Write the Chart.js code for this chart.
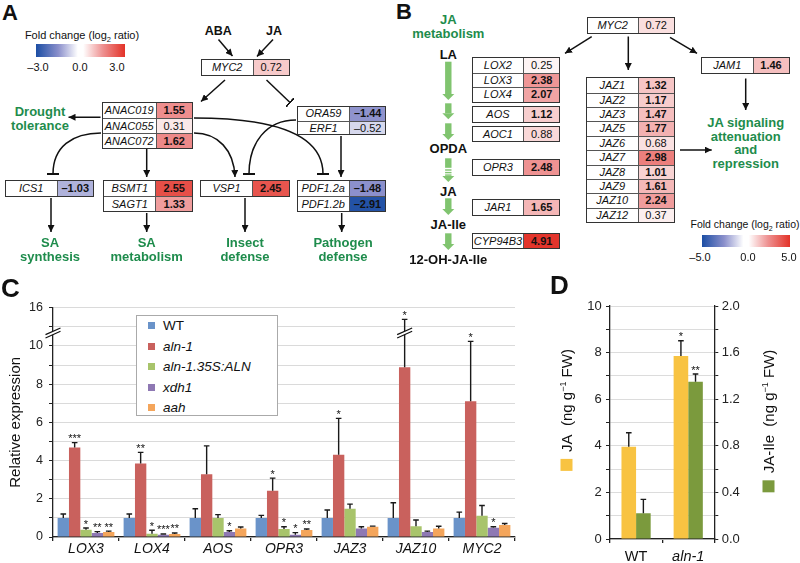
<!DOCTYPE html>
<html>
<head>
<meta charset="utf-8">
<script src="https://cdn.jsdelivr.net/npm/chart.js@4.4.1/dist/chart.umd.min.js"></script>
<style>
html, body { margin: 0; background: #fff; }
body { width: 800px; height: 563px; overflow: hidden; position: relative; font-family: 'Liberation Sans', Arial, sans-serif; color: #111; }
.abs { position: absolute; }
.plabel { position: absolute; font-weight: bold; }
.green { position: absolute; color: #1e8c4c; font-weight: bold; font-size: 13px; text-align: center; transform: translateX(-50%); white-space: nowrap; }
.blk { position: absolute; font-weight: bold; font-size: 13px; line-height: 13px; transform: translateX(-50%); white-space: nowrap; }
.small { position: absolute; font-size: 11px; line-height: 11px; white-space: nowrap; transform: translateX(-50%); }
.cbar { position: absolute; height: 13px; background: linear-gradient(to right, rgb(28,78,164), rgb(138,143,203) 25%, #fff 47%, #fff 53%, rgb(238,145,145) 75%, rgb(227,50,40)); }
.gbox { position: absolute; border: 1px solid #333; background: #fff; font-size: 11px; }
.grow { display: flex; box-sizing: border-box; }
.gn { font-style: italic; text-align: center; border-right: 1px solid #555; box-sizing: border-box; }
.gv { text-align: center; }
.wrap { position: absolute; }
#legC { position: absolute; left: 136px; top: 315px; width: 142px; height: 101px; border: 1px solid #aaa; background: #fff; box-sizing: border-box; font-size: 13.5px; }
#legC .li { height: 20.5px; line-height: 20.5px; padding-left: 11px; white-space: nowrap; }
#legC .sw { display: inline-block; width: 7px; height: 7px; margin-right: 8px; vertical-align: 1px; }
.ytitle { position: absolute; font-size: 15px; white-space: nowrap; transform: translate(-50%, -50%) rotate(-90deg); }
.ytitle .sq { display: inline-block; width: 12px; height: 12px; margin-right: 7px; vertical-align: -1px; }
sup { font-size: 9px; }
</style>
</head>
<body>

<svg class="abs" style="left:0;top:0" width="800" height="300" id="arrows">
  <defs>
    <marker id="ah" viewBox="0 0 10 10" refX="10" refY="5" markerWidth="7" markerHeight="7" orient="auto" markerUnits="userSpaceOnUse">
      <path d="M0,0 L10,5 L0,10 z" fill="#111"/>
    </marker>
    <marker id="tb" viewBox="0 0 2 12" refX="1" refY="6" markerWidth="2" markerHeight="12" orient="auto" markerUnits="userSpaceOnUse">
      <rect width="2" height="12" fill="#111"/>
    </marker>
  </defs>
  <g stroke="#111" stroke-width="1.5" fill="none">
    <!-- panel A -->
    <line x1="218.5" y1="39.5" x2="232.5" y2="56" marker-end="url(#ah)"/>
    <line x1="273" y1="39.5" x2="257" y2="56.5" marker-end="url(#ah)"/>
    <line x1="225" y1="80" x2="201" y2="101.5" marker-end="url(#ah)"/>
    <line x1="266.5" y1="80" x2="290" y2="102.5" marker-end="url(#tb)"/>
    <line x1="100.5" y1="117.3" x2="68.5" y2="117.3" marker-end="url(#ah)"/>
    <line x1="146.7" y1="149" x2="146.7" y2="177" marker-end="url(#ah)"/>
    <path d="M101,133 C72,133 53,147 53,174" marker-end="url(#tb)"/>
    <path d="M194,118 C282,118 323,138 323,174" marker-end="url(#tb)"/>
    <path d="M194,133 C218,133 234,150 235,177" marker-end="url(#ah)"/>
    <path d="M296,120 C266,120 249,143 249,174" marker-end="url(#tb)"/>
    <line x1="341" y1="136" x2="341" y2="177" marker-end="url(#ah)"/>
    <line x1="51" y1="198" x2="51" y2="232" marker-end="url(#ah)"/>
    <line x1="146.7" y1="213" x2="146.7" y2="232" marker-end="url(#ah)"/>
    <line x1="245" y1="198" x2="245" y2="232" marker-end="url(#ah)"/>
    <line x1="341.7" y1="213" x2="341.7" y2="232" marker-end="url(#ah)"/>
    <!-- panel B -->
    <line x1="591.7" y1="36.7" x2="565" y2="53.3" marker-end="url(#ah)"/>
    <line x1="628.3" y1="36.5" x2="628.3" y2="70" marker-end="url(#ah)"/>
    <line x1="670" y1="37.3" x2="697" y2="53.3" marker-end="url(#ah)"/>
    <line x1="745.7" y1="78.5" x2="745.7" y2="110" marker-end="url(#ah)"/>
    <line x1="680" y1="150" x2="711.7" y2="150" marker-end="url(#ah)"/>
  </g>
  <g id="greenArrows"></g>
</svg>

<div id="diagram"></div>

<div class="wrap" style="left:0;top:290px;width:530px;height:273px"><canvas id="chartC"></canvas></div>
<div class="wrap" style="left:550px;top:290px;width:250px;height:273px"><canvas id="chartD"></canvas></div>

<div id="legC"></div>

<div class="ytitle" style="left:566px;top:410px"><span class="sq" style="background:#f8c342"></span>JA&nbsp; (ng g<sup>−1</sup> FW)</div>
<div class="ytitle" style="left:768px;top:421px"><span class="sq" style="background:#7b9a3d"></span>JA-Ile&nbsp; (ng g<sup>−1</sup> FW)</div>

<!-- panel letters -->
<div class="plabel" style="left:2px;top:2px;font-size:22px;line-height:22px">A</div>
<div class="plabel" style="left:396px;top:0.5px;font-size:22px;line-height:22px">B</div>
<div class="plabel" style="left:1px;top:274.5px;font-size:26px;line-height:26px">C</div>
<div class="plabel" style="left:550px;top:271.5px;font-size:26px;line-height:26px">D</div>

<!-- colour keys -->
<div class="small" style="left:82px;top:30px">Fold change (log<sub style="font-size:7.5px">2</sub> ratio)</div>
<div class="cbar" style="left:36px;top:44px;width:89px"></div>
<div class="small" style="left:38px;top:62px">–3.0</div>
<div class="small" style="left:80px;top:62px">0.0</div>
<div class="small" style="left:117px;top:62px">3.0</div>

<div class="small" style="left:745px;top:218.5px;font-size:10.5px">Fold change (log<sub style="font-size:7px">2</sub> ratio)</div>
<div class="cbar" style="left:701.7px;top:235px;width:88.3px;height:12px"></div>
<div class="small" style="left:700px;top:252px">–5.0</div>
<div class="small" style="left:748px;top:252px">0.0</div>
<div class="small" style="left:789px;top:252px">5.0</div>

<!-- black / green labels -->
<div class="blk" style="left:218.3px;top:25px;font-size:12.5px">ABA</div>
<div class="blk" style="left:274px;top:25px;font-size:12.5px">JA</div>

<div class="green" style="left:40px;top:104.8px;line-height:14px">Drought<br>tolerance</div>
<div class="green" style="left:50px;top:235.8px;line-height:14px">SA<br>synthesis</div>
<div class="green" style="left:146.7px;top:235.8px;line-height:14px">SA<br>metabolism</div>
<div class="green" style="left:245px;top:235.8px;line-height:14px">Insect<br>defense</div>
<div class="green" style="left:343px;top:235.8px;line-height:14px">Pathogen<br>defense</div>

<div class="green" style="left:448.3px;top:13px;line-height:13.5px">JA<br>metabolism</div>
<div class="green" style="left:745.7px;top:116.3px;line-height:13.5px">JA signaling<br>attenuation<br>and<br>repression</div>

<div class="blk" style="left:448.3px;top:47.6px">LA</div>
<div class="blk" style="left:448.3px;top:142.3px">OPDA</div>
<div class="blk" style="left:448.3px;top:185px">JA</div>
<div class="blk" style="left:448.3px;top:218.3px">JA-Ile</div>
<div class="blk" style="left:448.3px;top:253.3px">12-OH-JA-Ile</div>

<script>
// panel A : log2 fold changes, colour key -3..3
const aMyc = ['MYC2'], aMycVal = [0.72];
const aNac = ['ANAC019', 'ANAC055', 'ANAC072'], aNacVal = [1.55, 0.31, 1.62];
const aOra = ['ORA59', 'ERF1'], aOraVal = [-1.44, -0.52];
const aIcs = ['ICS1'], aIcsVal = [-1.03];
const aSa = ['BSMT1', 'SAGT1'], aSaVal = [2.55, 1.33];
const aVsp = ['VSP1'], aVspVal = [2.45];
const aPdf = ['PDF1.2a', 'PDF1.2b'], aPdfVal = [-1.48, -2.91];

// panel B : colour key -5..5
const bMyc = ['MYC2'], bMycVal = [0.72];
const bLox = ['LOX2', 'LOX3', 'LOX4'], bLoxVal = [0.25, 2.38, 2.07];
const bAos = ['AOS'], bAosVal = [1.12];
const bAoc = ['AOC1'], bAocVal = [0.88];
const bOpr = ['OPR3'], bOprVal = [2.48];
const bJar = ['JAR1'], bJarVal = [1.65];
const bCyp = ['CYP94B3'], bCypVal = [4.91];
const bJam = ['JAM1'], bJamVal = [1.46];
const bJaz = ['JAZ1', 'JAZ2', 'JAZ3', 'JAZ5', 'JAZ6', 'JAZ7', 'JAZ8', 'JAZ9', 'JAZ10', 'JAZ12'];
const bJazVal = [1.32, 1.17, 1.47, 1.77, 0.68, 2.98, 1.01, 1.61, 2.24, 0.37];

// panel C : relative expression (axis above 10 is broken, 12 on the scale = 16)
const genesC = ['LOX3', 'LOX4', 'AOS', 'OPR3', 'JAZ3', 'JAZ10', 'MYC2'];
const seriesC = ['WT', 'aln-1', 'aln-1.35S:ALN', 'xdh1', 'aah'];
const wtC = [1, 1, 1, 1, 1, 1, 1];
const wtErrC = [0.2, 0.2, 0.48, 0.13, 0.41, 0.79, 0.3];
const aln1C = [4.68, 3.84, 3.29, 2.42, 4.3, 8.89, 7.1];
const aln1ErrC = [0.26, 0.59, 1.48, 0.66, 1.91, 2.5, 3.14];
const compC = [0.38, 0.17, 1.0, 0.42, 1.48, 0.56, 1.11];
const compErrC = [0.09, 0.18, 0.17, 0.12, 0.24, 0.33, 0.54];
const xdhC = [0.21, 0.12, 0.26, 0.12, 0.45, 0.26, 0.49];
const xdhErrC = [0.07, 0.04, 0.07, 0.11, 0.09, 0.05, 0.05];
const aahC = [0.26, 0.16, 0.45, 0.37, 0.54, 0.45, 0.63];
const aahErrC = [0.05, 0.05, 0.07, 0.05, 0.03, 0.11, 0.08];
const wtStars = ['', '', '', '', '', '', ''];
const aln1Stars = ['***', '**', '', '*', '*', '*', '*'];
const compStars = ['*', '*', '', '*', '', '', ''];
const xdhStars = ['**', '***', '*', '*', '', '', '*'];
const aahStars = ['**', '**', '', '**', '', '', ''];
const yTicksC = ['0', '', '2', '', '4', '', '6', '', '8', '', '10', '', '16'];

// panel D : JA and JA-Ile content
const groupsD = ['WT', 'aln-1'];
const jaD = [3.96, 7.85], jaErrD = [0.6, 0.66], jaStars = ['', '*'];
const jaIleD = [0.22, 1.35], jaIleErrD = [0.12, 0.066], jaIleStars = ['', '**'];
const yTicksD = ['0', '', '2', '', '4', '', '6', '', '8', '', '10'];
const y2TicksD = ['0.0', '', '0.4', '', '0.8', '', '1.2', '', '1.6', '', '2.0'];

const colorsC = ['#6a93c9', '#c9615d', '#a8c46b', '#8e78b3', '#f4a55b'];

// ---------- diagrams (A, B) ----------
function mix(a, b, t) { return a.map((v, i) => Math.round(v + (b[i] - v) * t)); }
function heat(v, max) {
    let t = Math.min(Math.abs(v) / max, 1);
    let st = v < 0 ? [[255, 255, 255], [138, 143, 203], [28, 78, 164]] : [[255, 255, 255], [238, 145, 145], [227, 50, 40]];
    let c = t < 0.5 ? mix(st[0], st[1], t * 2) : mix(st[1], st[2], (t - 0.5) * 2);
    return 'rgb(' + c.join(',') + ')';
}
function fmt(v) { return v < 0 ? '\u2013' + Math.abs(v).toFixed(2) : v.toFixed(2); }

const diag = document.getElementById('diagram');
function geneBox(x, y, names, vals, max, rowH, nameW, valW) {
    let d = document.createElement('div');
    d.className = 'gbox';
    d.style.left = x + 'px';
    d.style.top = y + 'px';
    names.forEach((n, i) => {
        let r = document.createElement('div');
        r.className = 'grow';
        r.style.height = rowH + 'px';
        r.style.lineHeight = (rowH - (i ? 1 : 0)) + 'px';
        if (i) r.style.borderTop = '1px solid #555';
        let v = vals[i];
        r.innerHTML = '<span class="gn" style="width:' + nameW + 'px">' + n + '</span>' +
            '<span class="gv" style="width:' + valW + 'px;background:' + heat(v, max) +
            ';font-weight:' + (Math.abs(v) >= 1 ? 'bold' : 'normal') + '">' + fmt(v) + '</span>';
        d.appendChild(r);
    });
    diag.appendChild(d);
}

geneBox(200.7, 59.3, aMyc, aMycVal, 3, 14.5, 52, 35);
geneBox(101.7, 101.7, aNac, aNacVal, 3, 15, 54, 35);
geneBox(296.7, 106, aOra, aOraVal, 3, 13.7, 52.5, 35);
geneBox(5, 180, aIcs, aIcsVal, 3, 15, 51.5, 35.5);
geneBox(103.3, 180, aSa, aSaVal, 3, 15, 52, 36);
geneBox(200, 180, aVsp, aVspVal, 3, 15, 52, 35.5);
geneBox(296.7, 180, aPdf, aPdfVal, 3, 15, 52, 35.5);

geneBox(586.7, 17.3, bMyc, bMycVal, 5, 14.4, 51, 35);
geneBox(471.7, 57.3, bLox, bLoxVal, 5, 14.6, 51.5, 35);
geneBox(471.7, 106, bAos, bAosVal, 5, 14.7, 51.5, 35);
geneBox(471.7, 125.7, bAoc, bAocVal, 5, 14.5, 51.5, 35);
geneBox(471.7, 159.3, bOpr, bOprVal, 5, 14.7, 51.5, 35);
geneBox(471.7, 199, bJar, bJarVal, 5, 14.7, 51.5, 35);
geneBox(471.7, 232.7, bCyp, bCypVal, 5, 14.7, 51.5, 35);
geneBox(701, 57.3, bJam, bJamVal, 5, 14.8, 51.5, 35);
geneBox(586, 77.3, bJaz, bJazVal, 5, 14.4, 51.5, 35);

// green pathway arrows (JA metabolism)
const G = '#80c46f';
function gArrow(x, y1, y2, dashed) {
    let s = '';
    let h = 6;
    if (!dashed) {
        s += '<rect x="' + (x - 3.2) + '" y="' + y1 + '" width="6.4" height="' + (y2 - y1 - h) + '" fill="' + G + '"/>';
    } else {
        s += '<rect x="' + (x - 3.2) + '" y="' + y1 + '" width="6.4" height="9.5" fill="' + G + '"/>';
        [169.3, 171.9, 174.4].forEach(yy => {
            s += '<rect x="' + (x - 3.2) + '" y="' + yy + '" width="6.4" height="1.4" fill="' + G + '"/>';
        });
    }
    s += '<polygon points="' + (x - 6) + ',' + (y2 - h) + ' ' + (x + 6) + ',' + (y2 - h) + ' ' + x + ',' + y2 + '" fill="' + G + '"/>';
    return s;
}
document.getElementById('greenArrows').innerHTML =
    gArrow(448.3, 61.7, 100) + gArrow(448.3, 103.3, 119.3) + gArrow(448.3, 123.3, 140) +
    gArrow(448.3, 158.3, 182, true) + gArrow(448.3, 198.3, 215) + gArrow(448.3, 233.3, 250);

// ---------- charts ----------
Chart.defaults.font.family = "'Liberation Sans', Arial, sans-serif";
Chart.defaults.color = '#222';

function drawBreak(ctx, x, y) {
    ctx.save();
    ctx.fillStyle = '#fff';
    ctx.beginPath();
    ctx.moveTo(x - 7.5, y + 1.7); ctx.lineTo(x + 7.5, y - 5);
    ctx.lineTo(x + 7.5, y - 1.7); ctx.lineTo(x - 7.5, y + 5);
    ctx.closePath();
    ctx.fill();
    ctx.strokeStyle = '#111';
    ctx.lineWidth = 1.2;
    ctx.beginPath();
    ctx.moveTo(x - 7.5, y + 1.7); ctx.lineTo(x + 7.5, y - 5);
    ctx.moveTo(x - 7.5, y + 5); ctx.lineTo(x + 7.5, y - 1.7);
    ctx.stroke();
    ctx.restore();
}

// error bars + significance stars, drawn from each bar element
const errBars = {
    id: 'errBars',
    afterDatasetsDraw(chart) {
        let ctx = chart.ctx;
        chart.data.datasets.forEach((ds, i) => {
            let meta = chart.getDatasetMeta(i);
            let scale = chart.scales[meta.yAxisID];
            meta.data.forEach((bar, j) => {
                let top = scale.getPixelForValue(ds.data[j] + ds.errors[j]);
                ctx.save();
                ctx.strokeStyle = '#1a1a1a';
                ctx.lineWidth = 1.4;
                ctx.beginPath();
                ctx.moveTo(bar.x, bar.y);
                ctx.lineTo(bar.x, top);
                ctx.moveTo(bar.x - 2.8, top);
                ctx.lineTo(bar.x + 2.8, top);
                ctx.stroke();
                if (ds.stars[j]) {
                    ctx.fillStyle = '#111';
                    ctx.font = "11px 'Liberation Sans', Arial, sans-serif";
                    ctx.textAlign = 'center';
                    ctx.textBaseline = 'alphabetic';
                    ctx.fillText(ds.stars[j], bar.x, top - 0.5);
                }
                ctx.restore();
            });
        });
    }
};

const axisBreak = {
    id: 'axisBreak',
    afterDraw(chart) {
        let y = chart.scales.y.getPixelForValue(10.68);
        drawBreak(chart.ctx, chart.chartArea.left, y);
        let bar = chart.getDatasetMeta(1).data[5];
        drawBreak(chart.ctx, bar.x, y);
    }
};

const dataC = [wtC, aln1C, compC, xdhC, aahC];
const errC = [wtErrC, aln1ErrC, compErrC, xdhErrC, aahErrC];
const starsC = [wtStars, aln1Stars, compStars, xdhStars, aahStars];

new Chart(document.getElementById('chartC'), {
    type: 'bar',
    data: {
        labels: genesC,
        datasets: seriesC.map((name, i) => ({
            label: name,
            data: dataC[i],
            errors: errC[i],
            stars: starsC[i],
            backgroundColor: colorsC[i],
            borderWidth: 0,
            categoryPercentage: 0.86,
            barPercentage: 1
        }))
    },
    options: {
        responsive: true,
        maintainAspectRatio: false,
        animation: false,
        layout: { padding: { top: 17.7, right: 15, left: 0, bottom: 0 } },
        plugins: { legend: { display: false }, tooltip: { enabled: false } },
        scales: {
            x: {
                grid: { display: true, drawOnChartArea: false, offset: true, tickLength: 4, tickColor: '#222', lineWidth: 1.3 },
                border: { color: '#222', width: 1.3 },
                ticks: { font: { size: 14, style: 'italic' }, color: '#111', padding: 0 },
                afterFit(scale) { scale.height = 26; }
            },
            y: {
                min: 0,
                max: 12,
                ticks: { stepSize: 1, autoSkip: false, font: { size: 12.5 }, color: '#222', padding: 6,
                    callback: (v, i) => yTicksC[i] },
                grid: { color: '#dadada', tickColor: '#222', tickLength: 4 },
                border: { color: '#222', width: 1.3 },
                title: { display: true, text: 'Relative expression', font: { size: 15 }, color: '#111', padding: { top: 7, bottom: 0 } },
                afterFit(scale) { scale.width = 53; }
            }
        }
    },
    plugins: [errBars, axisBreak]
});

// legend of panel C
const leg = document.getElementById('legC');
seriesC.forEach((s, i) => {
    leg.innerHTML += '<div class="li"><span class="sw" style="background:' + colorsC[i] + '"></span>' +
        '<span style="font-style:' + (i === 0 ? 'normal' : 'italic') + '">' + s + '</span></div>';
});

new Chart(document.getElementById('chartD'), {
    type: 'bar',
    data: {
        labels: groupsD,
        datasets: [
            { label: 'JA', data: jaD, errors: jaErrD, stars: jaStars, yAxisID: 'y',
              backgroundColor: '#f8c342', borderWidth: 0, categoryPercentage: 0.56, barPercentage: 1 },
            { label: 'JA-Ile', data: jaIleD, errors: jaIleErrD, stars: jaIleStars, yAxisID: 'y2',
              backgroundColor: '#7b9a3d', borderWidth: 0, categoryPercentage: 0.56, barPercentage: 1 }
        ]
    },
    options: {
        responsive: true,
        maintainAspectRatio: false,
        animation: false,
        layout: { padding: { top: 16, right: 0, left: 0, bottom: 0 } },
        plugins: { legend: { display: false }, tooltip: { enabled: false } },
        scales: {
            x: {
                grid: { display: true, drawOnChartArea: false, offset: true, tickLength: 4, tickColor: '#222', lineWidth: 1.3 },
                border: { color: '#222', width: 1.3 },
                ticks: { color: '#111', padding: 5,
                    font: ctx => ({ size: 14.5, style: ctx.index === 1 ? 'italic' : 'normal' }) },
                afterFit(scale) { scale.height = 24; }
            },
            y: {
                position: 'left',
                min: 0,
                max: 10,
                ticks: { stepSize: 1, autoSkip: false, font: { size: 13 }, color: '#222', padding: 4.3,
                    callback: (v, i) => yTicksD[i] },
                grid: { color: '#dcdcdc', tickColor: '#222', tickLength: 4 },
                border: { color: '#222', width: 1.3 },
                afterFit(scale) { scale.width = 60; }
            },
            y2: {
                position: 'right',
                min: 0,
                max: 2,
                ticks: { stepSize: 0.2, autoSkip: false, font: { size: 13 }, color: '#222', padding: 3.4,
                    callback: (v, i) => y2TicksD[i] },
                grid: { drawOnChartArea: false, tickColor: '#222', tickLength: 4 },
                border: { color: '#222', width: 1.3 },
                afterFit(scale) { scale.width = 85.7; }
            }
        }
    },
    plugins: [errBars]
});
</script>
</body>
</html>
